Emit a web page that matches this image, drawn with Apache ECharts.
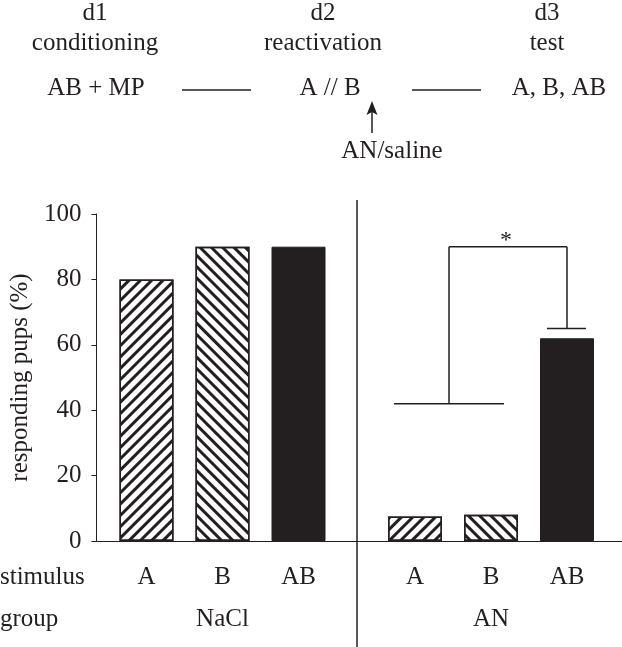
<!DOCTYPE html>
<html>
<head>
<meta charset="utf-8">
<script src="https://cdn.jsdelivr.net/npm/echarts@6/dist/echarts.min.js"></script>
<style>
html,body{margin:0;padding:0;background:#fff;}
#c{width:622px;height:647px;}
</style>
</head>
<body>
<div id="c"></div>
<script>
// ---- data ----
const stimuli = ['A', 'B', 'AB'];
const groups = ['NaCl', 'AN'];
const naclValues = [80, 90, 90];
const anValues = [7.5, 8, 62];
const yMin = 0, yMax = 100, yInterval = 20;
// significance bracket levels (in % units): lower bar over A/B, top bar, AB error cap
const bracketLower = 42;
const bracketTop = 90;
const abErrorTop = 65;

const INK = '#231f20';
const FONT = 'Liberation Serif';
const FS = 25;

const chart = echarts.init(document.getElementById('c'), null, {renderer: 'canvas'});

const hatchUp = {symbol: 'rect', symbolSize: 1, dashArrayX: [1, 0], dashArrayY: [3, 5], rotation: -Math.PI / 4, color: INK};
const hatchDown = {symbol: 'rect', symbolSize: 1, dashArrayX: [1, 0], dashArrayY: [3, 5], rotation: Math.PI / 4, color: INK};
function styleFor(i) {
  if (i === 0) return {color: '#fff', borderColor: INK, borderWidth: 1.5, decal: hatchUp};
  if (i === 1) return {color: '#fff', borderColor: INK, borderWidth: 1.5, decal: hatchDown};
  return {color: INK, borderColor: INK, borderWidth: 1};
}
function barData(vals) {
  return vals.map((v, i) => ({value: v, itemStyle: styleFor(i)}));
}

const gridTop = 214, gridH = 327;
const labelStyle = {fontFamily: FONT, fontSize: FS, color: INK};

const option = {
  animation: false,
  backgroundColor: '#fff',
  grid: [
    {left: 82, top: gridTop, width: 540, height: gridH},
    {left: 108.5, top: gridTop, width: 228, height: gridH},
    {left: 377, top: gridTop, width: 228, height: gridH}
  ],
  xAxis: [
    {gridIndex: 0, type: 'value', min: 0, max: 1, axisLine: {show: true, onZero: false, lineStyle: {color: INK, width: 1}},
     axisTick: {show: false}, axisLabel: {show: false}, splitLine: {show: false}},
    {gridIndex: 1, type: 'category', data: stimuli, axisLine: {show: false}, axisTick: {show: false},
     axisLabel: Object.assign({margin: 24}, labelStyle),
     name: groups[0], nameLocation: 'middle', nameGap: 66, nameTextStyle: labelStyle},
    {gridIndex: 2, type: 'category', data: stimuli, axisLine: {show: false}, axisTick: {show: false},
     axisLabel: Object.assign({margin: 24}, labelStyle),
     name: groups[1], nameLocation: 'middle', nameGap: 66, nameTextStyle: labelStyle}
  ],
  yAxis: [
    {gridIndex: 0, type: 'value', min: yMin, max: yMax, interval: yInterval,
     axisLine: {show: true, lineStyle: {color: INK, width: 1}},
     axisTick: {show: true, inside: false, length: 5, lineStyle: {color: INK}},
     axisLabel: Object.assign({margin: 15}, labelStyle),
     splitLine: {show: false},
     name: 'responding pups (%)', nameLocation: 'middle', nameGap: 48, nameRotate: 90,
     nameTextStyle: labelStyle},
    {gridIndex: 1, type: 'value', min: yMin, max: yMax, interval: yInterval, show: false},
    {gridIndex: 2, type: 'value', min: yMin, max: yMax, interval: yInterval, show: false}
  ],
  series: [
    {type: 'bar', xAxisIndex: 1, yAxisIndex: 1, barWidth: 54, data: barData(naclValues)},
    {type: 'bar', xAxisIndex: 2, yAxisIndex: 2, barWidth: 54, data: barData(anValues)}
  ]
};
chart.setOption(option);

// ---- annotations derived from the axes ----
function px(cat, val) {
  return chart.convertToPixel({xAxisIndex: 2, yAxisIndex: 2}, [cat, val]);
}
const pA = px(stimuli[0], bracketLower);
const pB = px(stimuli[1], bracketLower);
const pAB = px(stimuli[2], abErrorTop);
const yTop = px(stimuli[2], bracketTop)[1];
const midX = (pA[0] + pB[0]) / 2 - 4;

const g = [];
function line(x1, y1, x2, y2, lw) {
  g.push({type: 'line', shape: {x1, y1, x2, y2}, style: {stroke: INK, lineWidth: lw || 1.5}, silent: true});
}
function text(t, x, y, align, vAlign, fs) {
  g.push({type: 'text', x, y, style: {text: t, fontFamily: FONT, fontSize: fs || FS, fill: INK,
    align: align || 'center', verticalAlign: vAlign || 'middle'}, silent: true});
}
// bracket
line(pA[0] - 21, pA[1], pB[0] + 13, pB[1]);
line(midX, pA[1], midX, yTop);
line(midX, yTop, pAB[0], yTop);
line(pAB[0], yTop, pAB[0], pAB[1]);
line(pAB[0] - 20, pAB[1], pAB[0] + 19, pAB[1]);
text('*', (midX + pAB[0]) / 2 - 2, yTop + 6, 'center', 'bottom', 24);

// divider between groups
line(357, 200, 357, 647, 1.5);

// row labels
text('stimulus', 0, 577, 'left', 'middle');
text('group', 0, 619, 'left', 'middle');

// protocol diagram
text('d1', 95, 13);
text('conditioning', 95, 43);
text('AB + MP', 96, 88);
line(182, 90, 251, 90, 1.5);
text('d2', 323, 13);
text('reactivation', 323, 43);
text('A // B', 330, 88);
line(412, 90, 481, 90, 1.5);
text('d3', 547, 13);
text('test', 547, 43);
text('A, B, AB', 559, 88);
// arrow
line(372, 133, 372, 110, 1.5);
g.push({type: 'polygon', shape: {points: [[372, 101], [366.5, 115], [372, 112], [377.5, 115]]}, style: {fill: INK}, silent: true});
text('AN/saline', 392, 151);

chart.setOption({graphic: g});
</script>
</body>
</html>
